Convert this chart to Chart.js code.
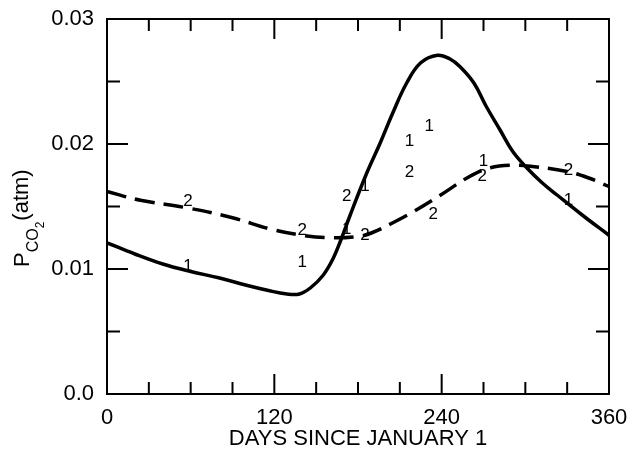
<!DOCTYPE html>
<html>
<head>
<meta charset="utf-8">
<script src="https://cdn.jsdelivr.net/npm/chart.js@4/dist/chart.umd.min.js"></script>
<style>
  body { margin: 0; background: #fff; }
  #wrap { width: 632px; height: 452px; }
</style>
</head>
<body>
<div id="wrap"><canvas id="grafico" width="632" height="452"></canvas></div>
<script>
// Curva 1 (linea continua): dias y PCO2
const dias1 = [0, 20, 40, 60, 80, 100, 115, 129, 138, 146, 155, 162, 168, 174, 186, 196, 205, 215, 225, 237, 246, 253, 263, 272, 282, 291, 301, 312, 323, 341, 360];
const pco2_1 = [0.0121, 0.0112, 0.0104, 0.0098, 0.0093, 0.0087, 0.0083, 0.0080, 0.0080, 0.0085, 0.0095, 0.0108, 0.0124, 0.0142, 0.0176, 0.0201, 0.0225, 0.0249, 0.0265, 0.0271, 0.0268, 0.0262, 0.0249, 0.0230, 0.0211, 0.0194, 0.0181, 0.0169, 0.0159, 0.0143, 0.0127];

// Curva 2 (linea segmentada)
const dias2 = [0, 24, 57, 90, 117, 140, 160, 180, 190, 205, 220, 239, 260, 275, 290, 305, 330, 345, 360];
const pco2_2 = [0.0162, 0.0155, 0.0149, 0.0141, 0.0132, 0.0127, 0.0125, 0.0126, 0.0129, 0.0137, 0.0146, 0.0159, 0.0174, 0.0181, 0.0183, 0.0182, 0.0178, 0.0173, 0.0166];

// Puntos observados marcados con "1" y "2"
const obsDias1 = [58, 140, 172, 185, 217, 231, 270, 331];
const obsPco2_1 = [0.0102, 0.0105, 0.0132, 0.0166, 0.0202, 0.0214, 0.0186, 0.0155];
const obsDias2 = [58, 140, 172, 185, 217, 234, 269, 331];
const obsPco2_2 = [0.0154, 0.0131, 0.0158, 0.0127, 0.0177, 0.0144, 0.0174, 0.0179];

// Ticks
const xTicksMayores = [0, 120, 240, 360];
const xTicksMenores = [30, 60, 90, 150, 180, 210, 270, 300, 330];
const yTicksMayores = [0, 0.01, 0.02, 0.03];
const yTicksMenores = [0.005, 0.015, 0.025];

const FUENTE = '"Liberation Sans", Arial, Helvetica, sans-serif';

const puntos = (xs, ys) => xs.map((x, i) => ({ x: x, y: ys[i] }));

// fondo blanco
const fondo = {
    id: 'fondo',
    beforeDraw(chart) {
        const ctx = chart.ctx;
        ctx.save();
        ctx.fillStyle = '#fff';
        ctx.fillRect(0, 0, chart.width, chart.height);
        ctx.restore();
    }
};

// marco y ticks hacia adentro
const marco = {
    id: 'marco',
    afterDatasetsDraw(chart) {
        const { ctx, chartArea: a, scales: { x, y } } = chart;
        ctx.save();
        ctx.strokeStyle = '#000';
        ctx.lineWidth = 2;
        ctx.strokeRect(a.left, a.top, a.right - a.left, a.bottom - a.top);
        ctx.beginPath();
        const tickX = (v, len) => {
            const px = x.getPixelForValue(v);
            ctx.moveTo(px, a.bottom); ctx.lineTo(px, a.bottom - len);
            ctx.moveTo(px, a.top); ctx.lineTo(px, a.top + len);
        };
        const tickY = (v, len) => {
            const py = y.getPixelForValue(v);
            ctx.moveTo(a.left, py); ctx.lineTo(a.left + len, py);
            ctx.moveTo(a.right, py); ctx.lineTo(a.right - len, py);
        };
        xTicksMayores.forEach(v => tickX(v, 20));
        xTicksMenores.forEach(v => tickX(v, 12));
        yTicksMayores.forEach(v => tickY(v, 21));
        yTicksMenores.forEach(v => tickY(v, 13));
        ctx.stroke();

        // numeros 1 y 2
        ctx.fillStyle = '#000';
        ctx.font = '17px ' + FUENTE;
        ctx.textAlign = 'center';
        ctx.textBaseline = 'middle';
        obsDias1.forEach((d, i) => ctx.fillText('1', x.getPixelForValue(d), y.getPixelForValue(obsPco2_1[i])));
        obsDias2.forEach((d, i) => ctx.fillText('2', x.getPixelForValue(d), y.getPixelForValue(obsPco2_2[i])));
        ctx.restore();
    }
};

// titulo del eje Y: P_CO2 (atm)
const tituloY = {
    id: 'tituloY',
    afterDraw(chart) {
        const ctx = chart.ctx;
        ctx.save();
        ctx.translate(29, 267);
        ctx.rotate(-Math.PI / 2);
        ctx.fillStyle = '#000';
        ctx.textBaseline = 'alphabetic';
        ctx.textAlign = 'left';
        let pos = 0;
        ctx.font = '22px ' + FUENTE;
        ctx.fillText('P', pos, 0);
        pos += ctx.measureText('P').width;
        ctx.font = '16px ' + FUENTE;
        ctx.fillText('CO', pos, 9);
        pos += ctx.measureText('CO').width;
        ctx.font = '12px ' + FUENTE;
        ctx.fillText('2', pos, 15);
        pos += ctx.measureText('2').width + 1;
        ctx.font = '22px ' + FUENTE;
        ctx.fillText('(atm)', pos, -1);
        ctx.restore();
    }
};

const config = {
    type: 'line',
    data: {
        datasets: [
            {
                label: '1',
                data: puntos(dias1, pco2_1),
                borderColor: '#000',
                borderWidth: 3.5,
                pointRadius: 0,
                fill: false,
                tension: 0.4
            },
            {
                label: '2',
                data: puntos(dias2, pco2_2),
                borderColor: '#000',
                borderWidth: 3.5,
                borderDash: [20, 9],
                pointRadius: 0,
                fill: false,
                tension: 0.4
            }
        ]
    },
    options: {
        responsive: false,
        animation: false,
        layout: { padding: { left: 0, right: 23, top: 19, bottom: 0 } },
        plugins: {
            legend: { display: false },
            tooltip: { enabled: false }
        },
        scales: {
            x: {
                type: 'linear',
                min: 0,
                max: 360,
                afterFit: (s) => { s.height = 58; },
                grid: { display: false },
                border: { display: false },
                ticks: {
                    stepSize: 120,
                    color: '#000',
                    padding: 3,
                    font: { family: FUENTE, size: 22 }
                },
                title: {
                    display: true,
                    text: 'DAYS SINCE JANUARY 1',
                    color: '#000',
                    padding: { top: 0, bottom: 0 },
                    font: { family: FUENTE, size: 22 }
                }
            },
            y: {
                type: 'linear',
                min: 0,
                max: 0.03,
                afterFit: (s) => { s.width = 107; },
                grid: { display: false },
                border: { display: false },
                ticks: {
                    stepSize: 0.01,
                    color: '#000',
                    padding: 5,
                    font: { family: FUENTE, size: 22 },
                    callback: (v) => v === 0 ? '0.0' : Number(v).toFixed(2)
                }
            }
        }
    },
    plugins: [fondo, marco, tituloY]
};

const ctx = document.getElementById('grafico').getContext('2d');
const myChart = new Chart(ctx, config);
</script>
</body>
</html>
